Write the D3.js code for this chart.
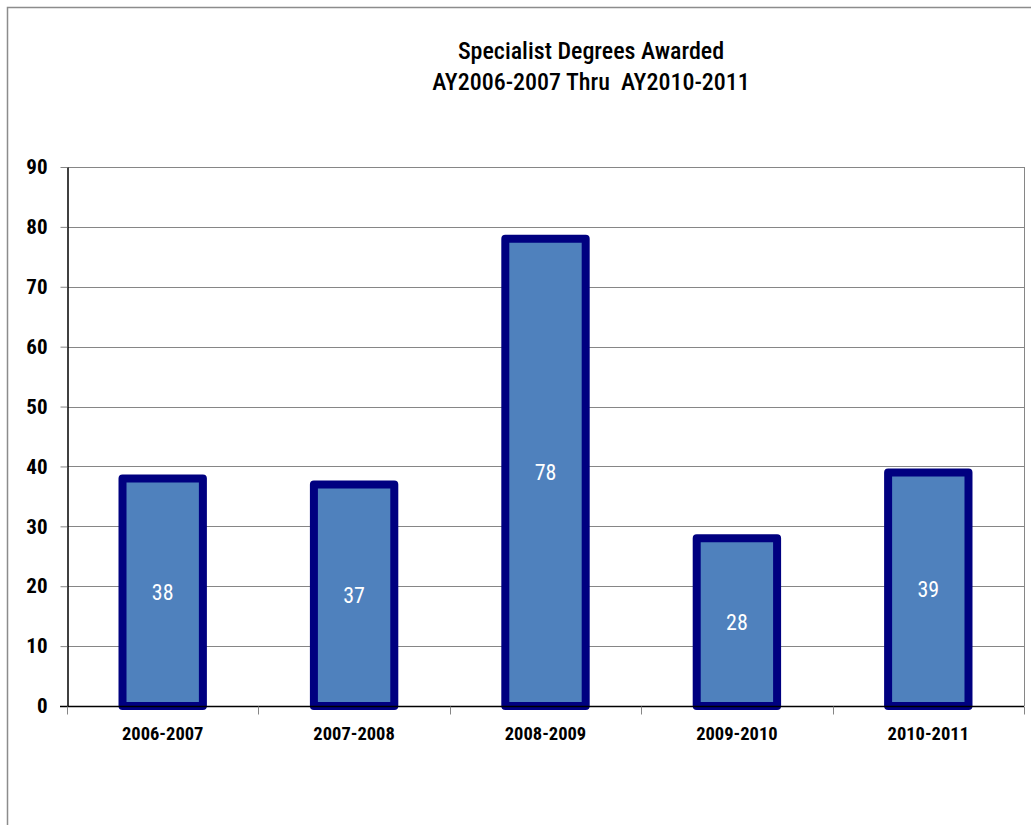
<!DOCTYPE html>
<html>
<head>
<meta charset="utf-8">
<script src="https://cdn.jsdelivr.net/npm/d3@7"></script>
<style>
  html, body { margin: 0; padding: 0; background: #fff; }
  svg { display: block; }
  text { font-family: "Liberation Sans Narrow", "Arial Narrow", "Roboto Condensed", Roboto, sans-serif; white-space: pre; }
</style>
</head>
<body>
<div id="viz"></div>
<script>
// chart values
const years = ["2006-2007", "2007-2008", "2008-2009", "2009-2010", "2010-2011"];
const degrees = [38, 37, 78, 28, 39];
const yTicks = [0, 10, 20, 30, 40, 50, 60, 70, 80, 90];
const titleLines = ["Specialist Degrees Awarded", "AY2006-2007 Thru  AY2010-2011"];

const width = 1031, height = 825;
const plot = { left: 67, top: 167, right: 1024, bottom: 706 };

const svg = d3.select("#viz").append("svg")
    .attr("width", width)
    .attr("height", height);

// outer chart frame
svg.append("rect")
    .attr("x", 7.5).attr("y", 7.5)
    .attr("width", width + 20).attr("height", height + 20)
    .attr("fill", "#fff")
    .attr("stroke", "#8c8c8c")
    .attr("stroke-width", 1.5);

const x = d3.scaleBand()
    .domain(years)
    .range([plot.left, plot.right])
    .paddingInner(0.58)
    .paddingOuter(0.29);

const y = d3.scaleLinear()
    .domain([0, 90])
    .range([plot.bottom, plot.top]);

// gridlines
svg.append("g")
    .selectAll("line")
    .data(yTicks.filter(d => d > 0))
    .join("line")
    .attr("x1", plot.left).attr("x2", plot.right)
    .attr("y1", d => Math.round(y(d)) + 0.5).attr("y2", d => Math.round(y(d)) + 0.5)
    .attr("stroke", "#868686")
    .attr("stroke-width", 1);

// right side of the plot area
svg.append("line")
    .attr("x1", plot.right + 0.5).attr("x2", plot.right + 0.5)
    .attr("y1", plot.top).attr("y2", plot.bottom)
    .attr("stroke", "#868686");

// bars
svg.append("g")
    .selectAll("rect")
    .data(degrees)
    .join("rect")
    .attr("x", (d, i) => x(years[i]))
    .attr("y", d => y(d))
    .attr("width", x.bandwidth())
    .attr("height", d => y(0) - y(d))
    .attr("fill", "#4f81bd")
    .attr("stroke", "#000080")
    .attr("stroke-width", 8)
    .attr("stroke-linejoin", "round");

// value labels
svg.append("g")
    .selectAll("text")
    .data(degrees)
    .join("text")
    .attr("x", (d, i) => x(years[i]) + x.bandwidth() / 2)
    .attr("y", d => (y(d) + y(0)) / 2)
    .attr("dy", "0.35em")
    .attr("text-anchor", "middle")
    .attr("fill", "#fff")
    .attr("font-size", 22)
    .text(d => d);

// y axis
const yAxis = svg.append("g")
    .attr("transform", `translate(${plot.left + 0.5},0)`)
    .call(d3.axisLeft(y).tickValues(yTicks).tickSize(7).tickPadding(13).tickSizeOuter(0));
yAxis.select(".domain").attr("stroke", "#000").attr("stroke-width", 1.5);
yAxis.selectAll(".tick line").attr("stroke", "#868686");
yAxis.selectAll("text")
    .attr("font-family", null)
    .attr("font-size", 21)
    .attr("font-weight", "bold")
    .attr("fill", "#000");

// x axis with ticks on category boundaries
const xAxis = svg.append("g")
    .attr("transform", `translate(0,${plot.bottom + 0.5})`);
xAxis.append("line")
    .attr("x1", plot.left - 7).attr("x2", plot.right)
    .attr("stroke", "#000").attr("stroke-width", 1.5);
const step = x.step();
xAxis.selectAll("line.tk")
    .data(d3.range(years.length + 1))
    .join("line")
    .attr("class", "tk")
    .attr("x1", i => Math.round(plot.left + i * step) + 0.5)
    .attr("x2", i => Math.round(plot.left + i * step) + 0.5)
    .attr("y1", 0).attr("y2", 8)
    .attr("stroke", "#868686");
xAxis.selectAll("text")
    .data(years)
    .join("text")
    .attr("x", d => x(d) + x.bandwidth() / 2)
    .attr("y", 33)
    .attr("text-anchor", "middle")
    .attr("font-size", 18.5)
    .attr("font-weight", "bold")
    .attr("fill", "#000")
    .text(d => d);

// title
svg.append("g")
    .selectAll("text")
    .data(titleLines)
    .join("text")
    .attr("x", 591)
    .attr("y", (d, i) => 59 + i * 31)
    .attr("text-anchor", "middle")
    .attr("font-size", 24)
    .attr("font-weight", 500)
    .attr("fill", "#000")
    .text(d => d);
</script>
</body>
</html>
